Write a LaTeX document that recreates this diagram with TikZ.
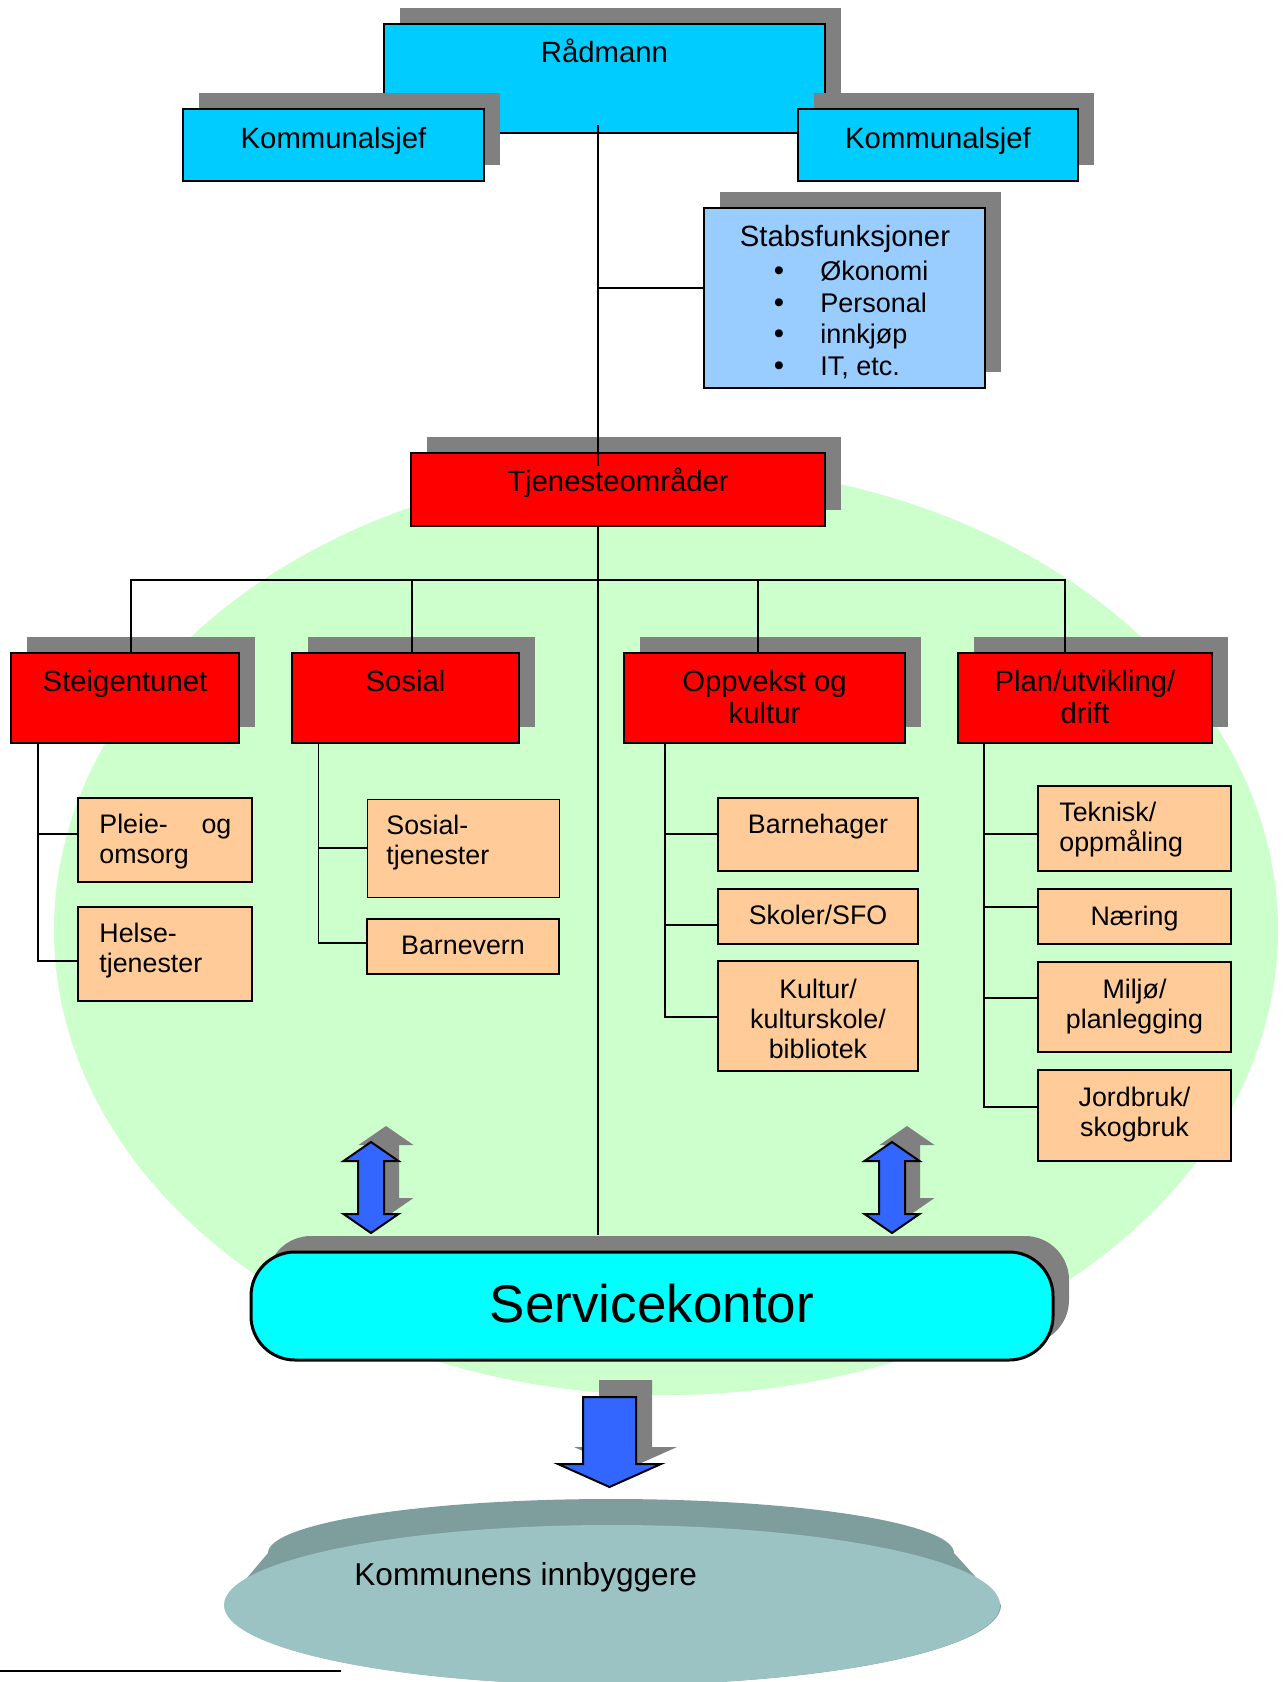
\documentclass[tikz,border=0pt]{standalone}
\usepackage{fontspec}
\setmainfont{Liberation Sans}
\usetikzlibrary{shadows}

\definecolor{shgray}{HTML}{808080}
\definecolor{topblue}{HTML}{00CCFF}
\definecolor{staffblue}{HTML}{99CCFF}
\definecolor{unitred}{HTML}{FF0000}
\definecolor{subpeach}{HTML}{FFCC99}
\definecolor{areagreen}{HTML}{CCFFCC}
\definecolor{servcyan}{HTML}{00FFFF}
\definecolor{arrowblue}{HTML}{3366FF}
\definecolor{disclight}{HTML}{9BC3C3}
\definecolor{discdark}{HTML}{7E9E9E}

% multi-line cell texts whose baseline is the first line
\newcommand\cellc[1]{\begin{tabular}[t]{@{}c@{}}#1\end{tabular}}
\newcommand\celll[1]{\begin{tabular}[t]{@{}l@{}}#1\end{tabular}}

\tikzset{
  shadowed/.style={drop shadow={shadow xshift=8pt,shadow yshift=8pt,fill=shgray,opacity=1}},
  orgbox/.style={draw=black,line width=1pt,inner sep=0pt,shadowed},
  topbox/.style={orgbox,fill=topblue,minimum height=36pt},
  unitbox/.style={orgbox,fill=unitred,minimum height=45pt},
  subbox/.style={draw=black,line width=1pt,inner sep=0pt,fill=subpeach,minimum width=100pt},
  txt/.style={inner sep=0pt,anchor=base,font=\fontsize{14.65}{16}\selectfont},
  subtxt/.style={txt,font=\fontsize{13.4}{15}\selectfont},
  link/.style={draw=black,line width=0.9pt},
  bus/.style={draw=black,line width=0.7pt},
  bidir/.pic={\path[pic actions] (0,-45.5) -- (27.5,-26.5) -- (13,-26.5) -- (13,26.5) -- (27.5,26.5)
      -- (0,45.5) -- (-27.5,26.5) -- (-13,26.5) -- (-13,-26.5) -- (-27.5,-26.5) -- cycle;},
  downarr/.pic={\path[pic actions] (-26.5,0) -- (26.5,0) -- (26.5,67) -- (51.5,67) -- (0,90)
      -- (-51.5,67) -- (-26.5,67) -- cycle;}
}

\begin{document}
\begin{tikzpicture}[x=0.5pt,y=-0.5pt]
\useasboundingbox (0,0) rectangle (1286,1682);

% service area background
\fill[areagreen] (666,930) ellipse[x radius=306pt,y radius=232.5pt];

% top management
\node[topbox,minimum width=220.5pt,minimum height=54.5pt] (rad) at (604.5,78.5) {};
\node[topbox,minimum width=150.5pt] (kl) at (333.5,145) {};
\node[topbox,minimum width=140pt] (kr) at (938,145) {};
\node[orgbox,fill=staffblue,minimum width=140.5pt,minimum height=90pt] (stabs) at (844.5,298) {};
\node[orgbox,fill=unitred,minimum width=207pt,minimum height=36.5pt] (tj) at (618,489.5) {};

\coordinate (trunk) at (598,0);
\draw[link,shorten <=-4.5pt,shorten >=-7pt] (rad.south -| trunk) -- (tj.north -| trunk);
\draw[link] (trunk |- 0,288) -- (stabs.west |- 0,288);

% service units
\node[unitbox,minimum width=114pt] (stg) at (125,698) {};
\node[unitbox,minimum width=113.5pt] (sos) at (405.5,698) {};
\node[unitbox,minimum width=140.5pt] (opp) at (764.5,698) {};
\node[unitbox,minimum width=127pt] (plan) at (1085,698) {};

\coordinate (bus) at (598,580);
\draw[bus] (stg.north -| 131,0) |- (bus) -| (plan.north -| 1065,0);
\draw[bus] (bus -| 412,0) -- (sos.north -| 412,0);
\draw[bus] (bus -| 758,0) -- (opp.north -| 758,0);

% sub units
\node[subbox,minimum width=87pt,minimum height=42pt] (pleie) at (165,840) {};
\node[subbox,minimum width=87pt,minimum height=47pt] (helse) at (165,954) {};
\node[subbox,line width=0.4pt,minimum width=96pt,minimum height=49pt] (sostj) at (463,848) {};
\node[subbox,minimum width=96pt,minimum height=27.5pt] (barnev) at (463,946.5) {};
\node[subbox,minimum height=36.5pt] (barneh) at (818,834.5) {};
\node[subbox,minimum height=27.5pt] (skoler) at (818,916.5) {};
\node[subbox,minimum height=55pt] (kultur) at (818,1016) {};
\node[subbox,minimum width=96.5pt,minimum height=42.5pt] (tekn) at (1134.5,828.5) {};
\node[subbox,minimum width=96.5pt,minimum height=27.5pt] (naer) at (1134.5,916.5) {};
\node[subbox,minimum width=96.5pt,minimum height=45pt] (milj) at (1134.5,1007) {};
\node[subbox,minimum width=96.5pt,minimum height=45.5pt] (jord) at (1134.5,1115.5) {};

\draw[link] (stg.south -| 38,0) |- (helse.west |- 0,961);
\draw[link] (pleie.west |- 0,834) -- (38,834);
\draw[link] (sos.south -| 318.5,0) |- (barnev.west |- 0,943);
\draw[link] (sostj.west) -- (sostj.west -| 318.5,0);
\draw[link] (opp.south -| 665,0) |- (kultur.west |- 0,1017);
\draw[link] (barneh.west |- 0,834) -- (665,834);
\draw[link] (skoler.west |- 0,925) -- (665,925);
\draw[link] (plan.south -| 984,0) |- (jord.west |- 0,1107);
\draw[link] (tekn.west |- 0,834) -- (984,834);
\draw[link] (naer.west |- 0,907) -- (984,907);
\draw[link] (milj.west |- 0,998) -- (984,998);

% two-way arrows between units and the service office
\pic[fill=shgray] at (386,1171.5) {bidir};
\pic[fill=arrowblue,draw=black,line width=1pt,line join=miter] at (371,1187.5) {bidir};
\pic[fill=shgray] at (907,1171.5) {bidir};
\pic[fill=arrowblue,draw=black,line width=1pt,line join=miter] at (892,1187.5) {bidir};

% service office
\node[draw=black,line width=1.5pt,fill=servcyan,rounded corners=22pt,inner sep=0pt,
      minimum width=401pt,minimum height=54pt,shadowed] (svc) at (652,1306) {};
\draw[link,shorten >=8pt] (tj.south -| trunk) -- (svc.north -| trunk);

% arrow down to the inhabitants
\pic[fill=shgray] at (625.5,1380) {downarr};
\pic[fill=arrowblue,draw=black,line width=1pt,line join=miter] at (609.5,1397) {downarr};

% inhabitants disc
\fill[discdark] (224,1605) -- (268,1553) arc[start angle=180,end angle=0,x radius=171.5pt,y radius=27pt]
   -- (1001,1605) arc[start angle=0,end angle=-180,x radius=194pt,y radius=40pt] -- cycle;
\fill[disclight] (612,1605) ellipse[x radius=194pt,y radius=40pt];

% footnote rule
\draw[line width=1pt] (0,1671) -- (341,1671);

% texts
\node[txt] (rad-t) at (604.5,62) {Rådmann};
\node[txt] (kl-t) at (333.5,148) {Kommunalsjef};
\node[txt] (kr-t) at (938,148) {Kommunalsjef};
\node[txt] (stabs-t) at (845,246) {Stabsfunksjoner};
\foreach \yy/\item [count=\i] in {280/Økonomi,312/Personal,343/innkjøp,375/{IT, etc.}}{
  \node[txt] (stabs-b\i) at (779,\yy) {•};
  \node[txt,anchor=base west,font=\fontsize{13.5}{16}\selectfont] (stabs-i\i) at (820,\yy) {\item};
}
\node[txt] (tj-t) at (618,491) {Tjenesteområder};
\node[txt] (stg-t) at (125,691) {Steigentunet};
\node[txt] (sos-t) at (405.5,691) {Sosial};
\node[txt] (opp-t) at (764.5,691) {\cellc{Oppvekst og\\kultur}};
\node[txt] (plan-t) at (1085,691) {\cellc{Plan/utvikling/\\drift}};

\node[subtxt,anchor=base west] (pleie-t) at (99,833) {\celll{\hbox to 66pt{Pleie-\hfill og}\\omsorg}};
\node[subtxt,anchor=base west] (helse-t) at (99,942) {\celll{Helse-\\tjenester}};
\node[subtxt,anchor=base west] (sostj-t) at (386,834) {\celll{Sosial-\\tjenester}};
\node[subtxt] (barnev-t) at (463,954) {Barnevern};
\node[subtxt] (barneh-t) at (818,833) {Barnehager};
\node[subtxt] (skoler-t) at (818,924) {Skoler/SFO};
\node[subtxt] (kultur-t) at (818,998) {\cellc{Kultur/\\kulturskole/\\bibliotek}};
\node[subtxt,anchor=base west] (tekn-t) at (1059,821) {\celll{Teknisk/\\oppmåling}};
\node[subtxt] (naer-t) at (1134.5,925) {Næring};
\node[subtxt] (milj-t) at (1134.5,998) {\cellc{Miljø/\\planlegging}};
\node[subtxt] (jord-t) at (1134.5,1106) {\cellc{Jordbruk/\\skogbruk}};

\node[inner sep=0pt,anchor=base,font=\fontsize{26.5}{30}\selectfont] (svc-t) at (652,1322) {Servicekontor};
\node[inner sep=0pt,anchor=base west,font=\fontsize{15.8}{18}\selectfont] (disc-t) at (354,1585) {Kommunens innbyggere};
\end{tikzpicture}
\end{document}
